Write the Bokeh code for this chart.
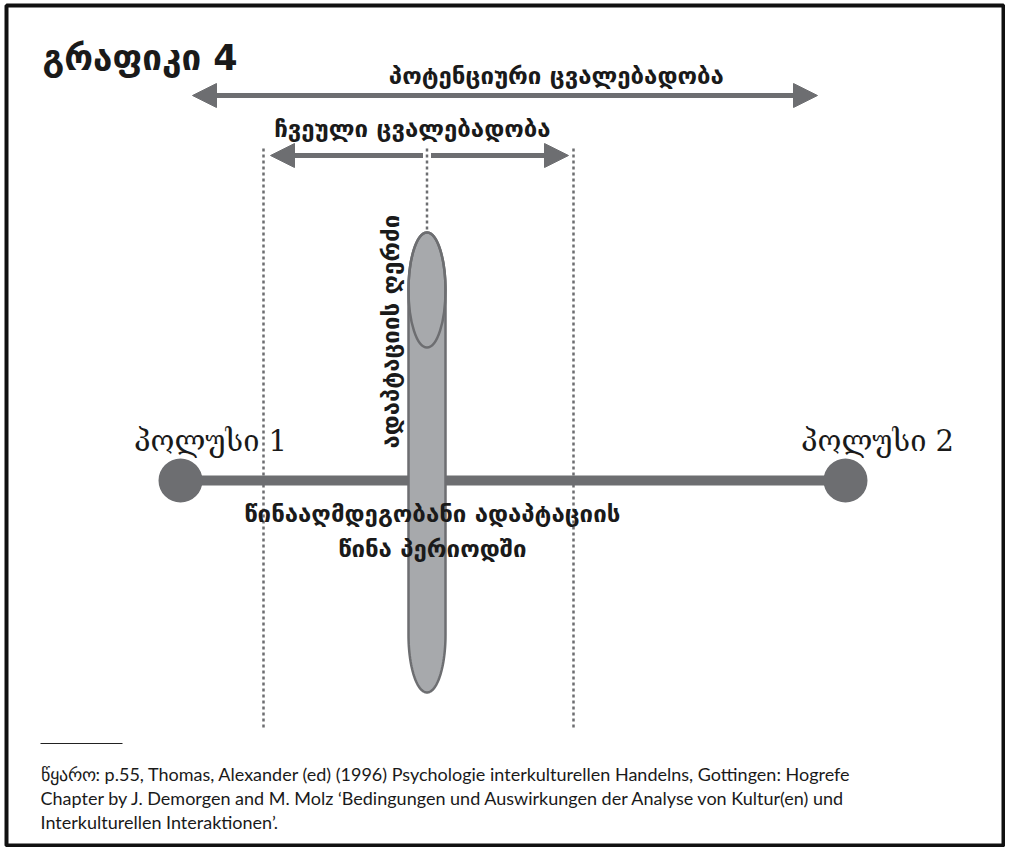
import numpy as np
from bokeh.plotting import figure
from bokeh.models import Range1d, Arrow, NormalHead
from bokeh.core.properties import value
from bokeh.embed import file_html
from bokeh.resources import INLINE

# ---- texts (content) ----
title_text = ["გრაფიკი 4"]
arrow_labels = ["პოტენციური  ცვალებადობა", "ჩვეული  ცვალებადობა"]
pole_labels = ["პოლუსი 1", "პოლუსი 2"]
axis_label = ["ადაპტაციის  ღერძი"]
resistance_lines = ["წინააღმდეგობანი  ადაპტაციის", "წინა  პერიოდში"]
source_lines = [
    "წყარო:  p.55, Thomas, Alexander (ed) (1996) Psychologie interkulturellen Handelns, Gottingen: Hogrefe",
    "Chapter by J. Demorgen and M. Molz ‘Bedingungen und Auswirkungen der Analyse von Kultur(en) und",
    "Interkulturellen Interaktionen’.",
]

# ---- layout (pixel-like diagram coordinates) ----
W, H = 1005, 847
DARK = "#6d6e71"
LIGHT = "#a7a9ac"
pole_x = [180, 845]
pole_y = 480
dot_x = [263, 573]
dot_top, dot_bottom = 148, 730
cap_x, cap_half, cap_top, cap_bottom, cap_ry = 426.5, 18.5, 232, 692, 57.5

p = figure(width=W, height=H, x_range=Range1d(0, W), y_range=Range1d(H, 0),
           output_backend="svg", toolbar_location=None, min_border=0,
           x_axis_location=None, y_axis_location=None)
p.grid.visible = False
p.outline_line_color = None
p.background_fill_color = "white"
p.border_fill_color = "white"

# frame
p.quad(left=[6], right=[1003], top=[5], bottom=[845], fill_color=None,
       line_color="#111111", line_width=4)

# dotted verticals
p.segment(x0=dot_x, y0=[dot_top] * 2, x1=dot_x, y1=[dot_bottom] * 2,
          line_color=DARK, line_width=2.5, line_dash="3 3")
p.segment(x0=[cap_x], y0=[dot_top], x1=[cap_x], y1=[cap_top],
          line_color=DARK, line_width=2.5, line_dash="3 3")

# arrows
def head():
    return NormalHead(size=24, fill_color=DARK, line_color=DARK, line_width=1)

p.add_layout(Arrow(x_start=192, y_start=95, x_end=817, y_end=95, start=head(), end=head(),
                   line_color=DARK, line_width=5))
p.add_layout(Arrow(x_start=cap_x - 4, y_start=155, x_end=270, y_end=155, end=head(),
                   line_color=DARK, line_width=5))
p.add_layout(Arrow(x_start=cap_x + 4, y_start=155, x_end=568, y_end=155, end=head(),
                   line_color=DARK, line_width=5))

# pole bar and circles
p.segment(x0=[pole_x[0]], y0=[pole_y], x1=[pole_x[1]], y1=[pole_y], line_color=DARK, line_width=10)
p.circle(x=pole_x, y=[pole_y] * 2, radius=22, fill_color=DARK, line_color=None)

# capsule (adaptation axis)
t = np.linspace(0, np.pi, 60)
yt = cap_top + cap_ry
yb = cap_bottom - cap_ry
xs = np.concatenate([cap_x + cap_half * np.cos(t), cap_x - cap_half * np.cos(t)])
ys = np.concatenate([yt - cap_ry * np.sin(t), yb + cap_ry * np.sin(t)])
p.patch(x=xs, y=ys, fill_color=LIGHT, line_color=DARK, line_width=2.5)
p.ellipse(x=[cap_x], y=[yt], width=2 * cap_half, height=2 * cap_ry, fill_color=None,
          line_color=DARK, line_width=2.5)

# texts
bold_font = value("DejaVu Sans")
p.text(x=[42], y=[57], text=title_text, text_font=bold_font, text_font_style="bold",
       text_font_size="35px", text_baseline="middle", text_align="left", text_color="#1a1a1a")
p.text(x=[560, 416], y=[75, 128], text=arrow_labels, text_font=bold_font, text_font_style="bold",
       text_font_size="24px", text_baseline="middle", text_align="center", text_color="#1a1a1a")
p.text(x=[390], y=[327], text=axis_label, text_font=bold_font, text_font_style="bold",
       text_font_size="24px", text_baseline="middle", text_align="center", angle=np.pi / 2,
       text_color="#1a1a1a")
p.text(x=[436, 436], y=[513, 548], text=resistance_lines, text_font=bold_font, text_font_style="bold",
       text_font_size="24px", text_baseline="middle", text_align="center", text_color="#1a1a1a")
p.text(x=[210, 877], y=[440, 440], text=pole_labels, text_font=value("DejaVu Serif"),
       text_font_size="29px", text_baseline="middle", text_align="center", text_color="#1a1a1a")

# footnote
p.segment(x0=[40], y0=[743], x1=[122], y1=[743], line_color="#222222", line_width=1)
p.text(x=[40] * 3, y=[773, 797, 821], text=source_lines, text_font=value("Lato"),
       text_font_size="18px", text_baseline="middle", text_align="left", text_color="#1a1a1a")

open("out.html", "w").write(file_html(p, INLINE))
